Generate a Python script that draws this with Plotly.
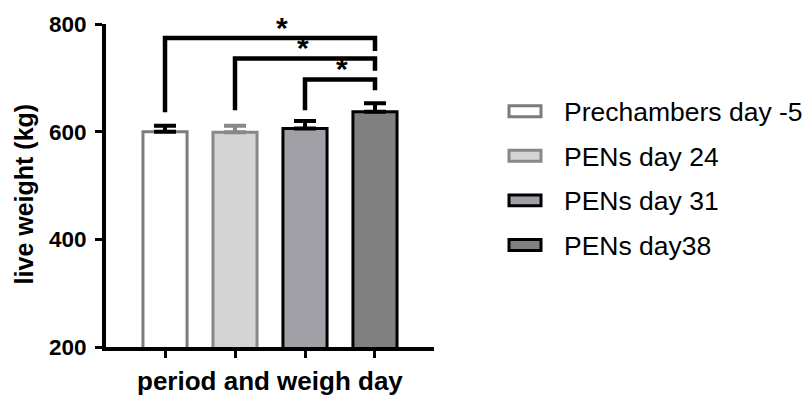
import plotly.graph_objects as go

# Live weight per weighing period (mean and upper SEM)
periods = ["Prechambers day -5", "PENs day 24", "PENs day 31", "PENs day38"]
weights = [600, 599, 606, 637]
sem = [11, 12, 14, 16]

# Bar styling per period
fills = ["#ffffff", "#d4d4d4", "#a0a0a6", "#808080"]
borders = ["#7c7c7c", "#888888", "#000000", "#000000"]
err_colors = ["#000000", "#888888", "#000000", "#000000"]

# Significance brackets: (left bar, right bar, bracket level, left leg end, right leg end, star x)
comparisons = [
    (0, 3, 774, 636, 750, 1.67),
    (1, 3, 736, 640, 713, 1.97),
    (2, 3, 697, 640, 677, 2.53),
]
yticks = [200, 400, 600, 800]

FONT = "Liberation Sans"
W, H = 805, 397
L, R, T, B = 106, 371, 21, 50

fig = go.Figure()
for i, name in enumerate(periods):
    fig.add_trace(go.Bar(
        x=[i], y=[weights[i]], name=name, width=0.63,
        marker=dict(color=fills[i], line=dict(color=borders[i], width=3)),
        error_y=dict(type="data", array=[sem[i]], arrayminus=[0], symmetric=False,
                     color=err_colors[i], thickness=4, width=11),
        showlegend=False,
    ))

shapes = []
annotations = []
for a, b, lvl, lo_a, lo_b, sx in comparisons:
    path = f"M {a},{lo_a} L {a},{lvl} L {b},{lvl} L {b},{lo_b}"
    shapes.append(dict(type="path", path=path, xref="x", yref="y",
                       line=dict(color="black", width=4.5)))
    annotations.append(dict(x=sx, y=lvl, xref="x", yref="y", text="<b>*</b>",
                            showarrow=False, yanchor="middle", yshift=11,
                            font=dict(family=FONT, size=30, color="black")))

# Helpers to place the legend in paper coordinates from pixel offsets
pw, ph = W - L - R, H - T - B
def px(x):
    return (x - L) / pw
def py(y):
    return (H - B - y) / ph

for i, name in enumerate(periods):
    cy = 109 + 45 * i
    shapes.append(dict(type="rect", xref="paper", yref="paper",
                       x0=px(509), x1=px(541), y0=py(cy + 5.5), y1=py(cy - 5.5),
                       fillcolor=fills[i], line=dict(color=borders[i], width=3)))
    annotations.append(dict(x=px(562), y=py(cy + 1), xref="paper", yref="paper",
                            text=name, showarrow=False, xanchor="left", yanchor="middle",
                            font=dict(family=FONT, size=26.5, color="black")))

# Axis titles
annotations.append(dict(x=px(24), y=py(193), xref="paper", yref="paper",
                        text="<b>live weight (kg)</b>", textangle=-90, showarrow=False,
                        xanchor="center", yanchor="middle",
                        font=dict(family=FONT, size=25, color="black")))
annotations.append(dict(x=px(270), y=py(381), xref="paper", yref="paper",
                        text="<b>period and weigh day</b>", showarrow=False,
                        xanchor="center", yanchor="middle",
                        font=dict(family=FONT, size=26, color="black")))

fig.update_layout(
    width=W, height=H,
    margin=dict(l=L, r=R, t=T, b=B),
    paper_bgcolor="white", plot_bgcolor="white",
    barmode="overlay",
    shapes=shapes, annotations=annotations,
    font=dict(family=FONT, color="black"),
)
fig.update_xaxes(
    range=[-0.843, 3.843], tickvals=list(range(len(periods))), showticklabels=False,
    ticks="outside", ticklen=7, tickwidth=3, tickcolor="black",
    showline=True, linewidth=4, linecolor="black", showgrid=False, zeroline=False,
)
fig.update_yaxes(
    range=[200, 800], tickvals=yticks, ticktext=[f"<b>{v}</b>" for v in yticks],
    ticks="outside", ticklen=7, tickwidth=3, tickcolor="black", ticklabelstandoff=4,
    tickfont=dict(family=FONT, size=22.5, color="black"),
    showline=True, linewidth=4, linecolor="black", showgrid=False, zeroline=False,
)

fig.write_html("out.html")
